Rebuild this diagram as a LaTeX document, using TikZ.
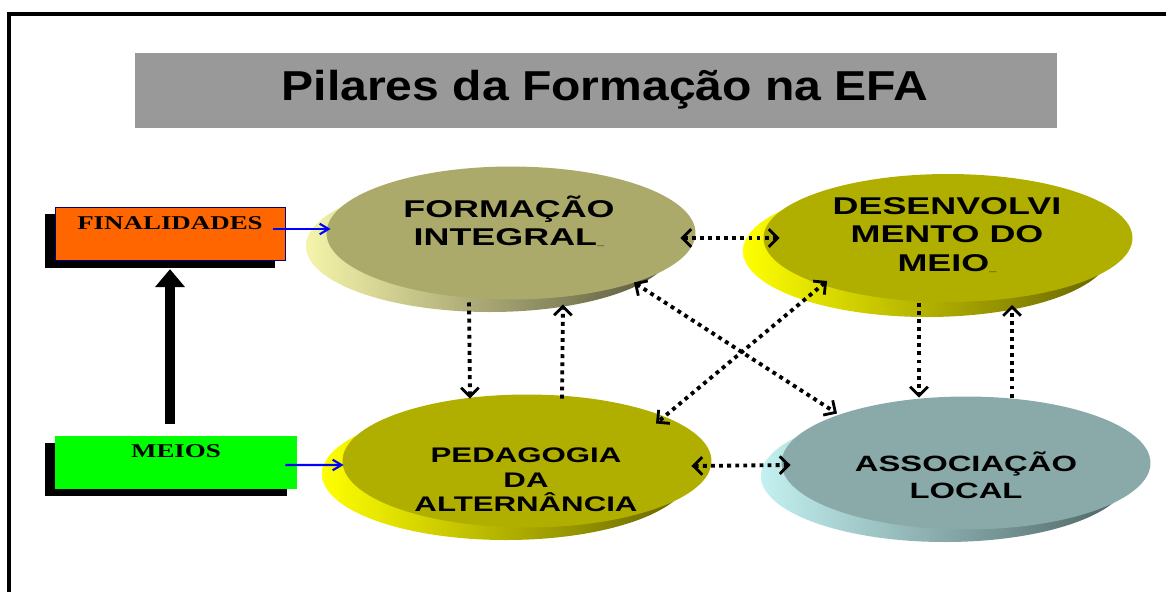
\documentclass[tikz,border=0pt]{standalone}
\usepackage{fontspec}
\usepackage{tikz}
\usetikzlibrary{shapes.geometric, arrows.meta, calc, shadows, backgrounds}

\newfontfamily\titlefont{Liberation Sans}[FakeStretch=1.15]
\newfontfamily\pilarfont{Liberation Sans}[FakeStretch=1.48]
\newfontfamily\boxfont{Liberation Serif}[FakeStretch=1.38]

\definecolor{titlegray}{RGB}{153,153,153}
\definecolor{finorange}{RGB}{255,102,0}
\definecolor{meiogreen}{RGB}{0,255,0}
\definecolor{formfill}{RGB}{171,170,106}
\definecolor{formlight}{RGB}{245,244,170}
\definecolor{formmid}{RGB}{150,148,100}
\definecolor{formdark}{RGB}{85,84,58}
\definecolor{olivefill}{RGB}{176,175,0}
\definecolor{olivelight}{RGB}{255,255,0}
\definecolor{olivemid}{RGB}{140,138,0}
\definecolor{olivedark}{RGB}{100,98,0}
\definecolor{assocfill}{RGB}{138,170,170}
\definecolor{assoclight}{RGB}{195,240,240}
\definecolor{assocmid}{RGB}{110,138,138}
\definecolor{assocdark}{RGB}{75,98,98}

\tikzset{
    titlebox/.style={fill=titlegray, minimum width=18.44cm, minimum height=1.5cm},
    titletext/.style={inner sep=0pt, font=\titlefont\bfseries\fontsize{23.8}{28}\selectfont},
    sidebox/.style={inner xsep=0pt, inner ysep=0pt, text height=12.5pt, text depth=18pt,
        font=\boxfont\bfseries\fontsize{11.1}{13}\selectfont,
        drop shadow={shadow xshift=-5.7pt, shadow yshift=-4pt, opacity=1, fill=black}},
    pilar/.style={shape=ellipse, inner sep=0pt, outer sep=0pt,
        minimum width=7.38cm, minimum height=2.66cm},
    pilartext/.style={align=center, inner sep=0pt,
        font=\pilarfont\bfseries\fontsize{13.8}{16.2}\selectfont},
    ligacao/.style={line width=2.2pt, dash pattern=on 2.2pt off 2.4pt,
        >={Straight Barb[length=5pt,width=10pt,line width=1.6pt]}},
    entrada/.style={blue, line width=1.4pt,
        -{Straight Barb[length=5pt,width=6pt,line width=1.2pt]}}
}

\begin{document}
\begin{tikzpicture}[x=0.02cm, y=-0.02cm]

            \useasboundingbox (0,0) rectangle (1166,592);
            \draw[line width=2pt] (9,592) -- (9,14) -- (1166,14);

            \node[titlebox] (title) at (596,90.5) {};
            \node[titletext] (titleT) at (605,90) {Pilares da Formação na EFA};

            % left column
            \node[sidebox, fill=finorange, draw=blue!50!black, line width=0.4pt, minimum width=4.6cm] (fin) at (170,234) {FINALIDADES};
            \node[sidebox, fill=meiogreen, minimum width=4.84cm] (mei) at (176,462.5) {MEIOS};
            \draw[line width=5.7pt, -{Triangle[width=16.4pt,length=10.2pt]}] ($(mei.north)+(-6,-11)$) -- ($(fin.south)+(0,8)$);

            % the four pillars
            \node[pilar, fill=formfill] (form) at (511,233) {};
            \node[pilar, fill=olivefill, minimum height=2.56cm] (des) at (948,238) {};
            \node[pilar, fill=olivefill] (ped) at (527,461) {};
            \node[pilar, fill=assocfill] (ass) at (966,463) {};

            \begin{pgfonlayer}{background}
                \foreach \n/\c in {form/form, des/olive, ped/olive, ass/assoc}
                    \shade[left color=\c light, middle color=\c mid, right color=\c dark] ($(\n.center)+(-21,13)$) ellipse [x radius=184, y radius=66];
            \end{pgfonlayer}

            \node[pilartext] (formT) at (509,221) {FORMAÇÃO\\INTEGRAL{\tiny\_}};
            \node[pilartext] (desT) at (947,235) {DESENVOLVI\\MENTO DO\\MEIO{\tiny\_}};
            \node[pilartext, font=\pilarfont\bfseries\fontsize{12}{13.9}\selectfont] (pedT) at (526,480) {PEDAGOGIA\\DA\\ALTERNÂNCIA};
            \node[pilartext, font=\pilarfont\bfseries\fontsize{12.6}{15.3}\selectfont] (assT) at (966,475) {ASSOCIAÇÃO\\LOCAL};

            \draw[entrada] ($(fin.east)+(-12,-5)$) -- ($(form.west)+(4,-4)$);
            \draw[entrada] ($(mei.east)+(-12,2.5)$) -- ($(ped.west)+(1,4)$);

            % dotted links
            \draw[ligacao, <->] ($(form.east)+(-15,5)$) -- ($(des.west)+(16,0)$);
            \draw[ligacao, <->] ($(ped.east)+(-20,5)$) -- ($(ass.west)+(9,2)$);
            \draw[ligacao, ->] ($(form.south)+(-42,3)$) -- ($(ped.north)+(-57,4)$);
            \draw[ligacao, ->] ($(ped.north)+(35,4)$) -- ($(form.south)+(52,5)$);
            \draw[ligacao, ->] ($(des.south)+(-29,1)$) -- ($(ass.north)+(-47,1)$);
            \draw[ligacao, ->] ($(ass.north)+(46,1)$) -- ($(des.south)+(64,3)$);
            \draw[ligacao, <->] ($(form.south)+(123,-17)$) -- ($(ass.north)+(-129,17)$);
            \draw[ligacao, <->] ($(des.south)+(-121,-21)$) -- ($(ped.north)+(129,29)$);

\end{tikzpicture}
\end{document}
